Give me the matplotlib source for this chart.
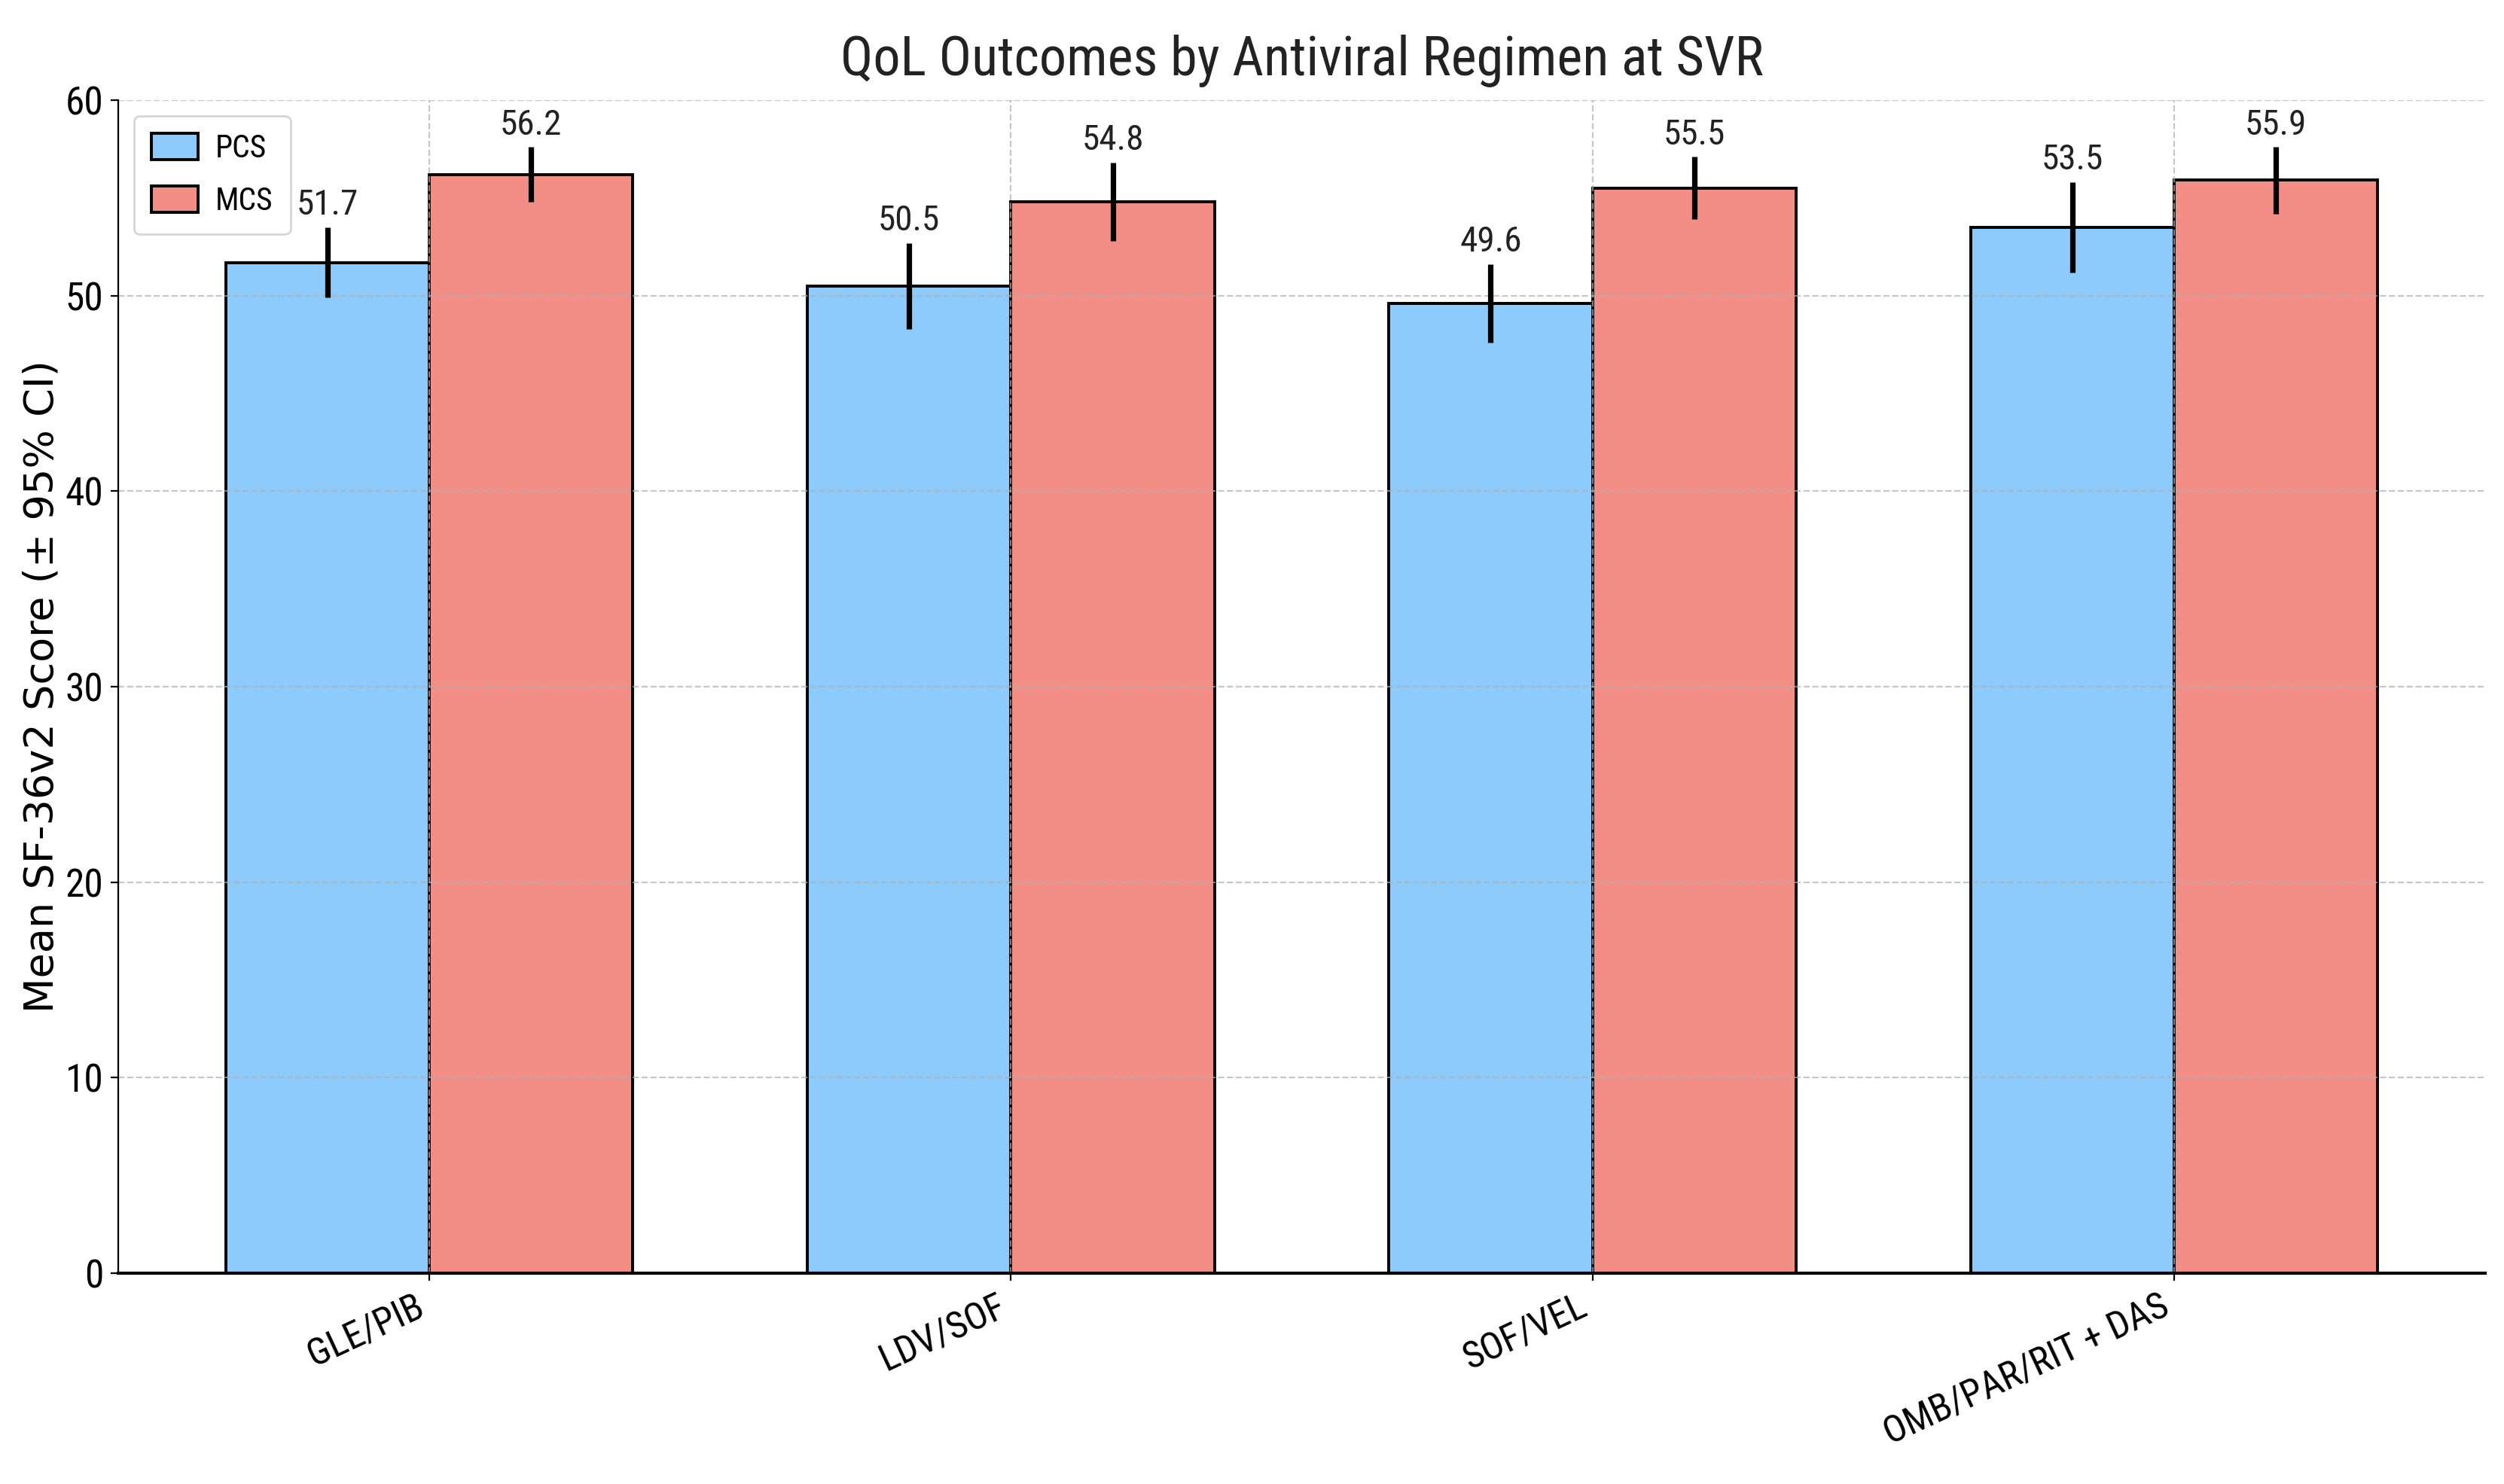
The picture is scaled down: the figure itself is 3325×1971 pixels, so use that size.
import numpy as np
import matplotlib
matplotlib.use("Agg")
import matplotlib.pyplot as plt

# data
regimens = ["GLE/PIB", "LDV/SOF", "SOF/VEL", "OMB/PAR/RIT + DAS"]
pcs_mean = [51.7, 50.5, 49.6, 53.5]
mcs_mean = [56.2, 54.8, 55.5, 55.9]
pcs_ci = [1.8, 2.2, 2.0, 2.3]
mcs_ci = [1.4, 2.0, 1.6, 1.7]

narrow = ["Roboto Condensed", "DejaVu Sans"]
plt.rcParams["font.family"] = narrow
plt.rcParams["font.stretch"] = "condensed"

x = np.arange(len(regimens))
width = 0.35

fig = plt.figure(figsize=(16.625, 9.855), dpi=200)
ax = fig.add_axes([0.0472, 0.1421, 0.9453, 0.7904])

err_kw = dict(elinewidth=2.6, ecolor="black", capsize=0)
b1 = ax.bar(x - width / 2, pcs_mean, width, yerr=pcs_ci, label="PCS",
            color="#8DCBFC", edgecolor="black", linewidth=1.4, error_kw=err_kw)
b2 = ax.bar(x + width / 2, mcs_mean, width, yerr=mcs_ci, label="MCS",
            color="#F28E86", edgecolor="black", linewidth=1.4, error_kw=err_kw)

# value labels above the CI whiskers
for bars, means, cis in [(b1, pcs_mean, pcs_ci), (b2, mcs_mean, mcs_ci)]:
    for rect, m, c in zip(bars, means, cis):
        ax.text(rect.get_x() + rect.get_width() / 2, m + c + 0.3, f"{m:.1f}",
                ha="center", va="bottom", fontsize=17, color="#222222")

ax.set_ylim(0, 60)
ax.set_xticks(x)
ax.set_xticklabels(regimens, rotation=25, ha="right", fontsize=18)
ax.tick_params(axis="y", labelsize=18.5)
ax.set_ylabel("Mean SF-36v2 Score (± 95% CI)", fontsize=19.5,
              family="DejaVu Sans", stretch="normal", labelpad=2)
ax.set_title("QoL Outcomes by Antiviral Regimen at SVR", fontsize=26,
             color="#222222", pad=12)

ax.grid(True, linestyle="--", alpha=0.7)
ax.spines["top"].set_visible(False)
ax.spines["right"].set_visible(False)
ax.spines["bottom"].set_linewidth(1.5)

ax.legend(loc="upper left", fontsize=15, labelspacing=0.7,
          handlelength=1.5, handleheight=0.9, handletextpad=0.55,
          borderpad=0.55)

fig.savefig("out.png", dpi=200)
plt.close(fig)
